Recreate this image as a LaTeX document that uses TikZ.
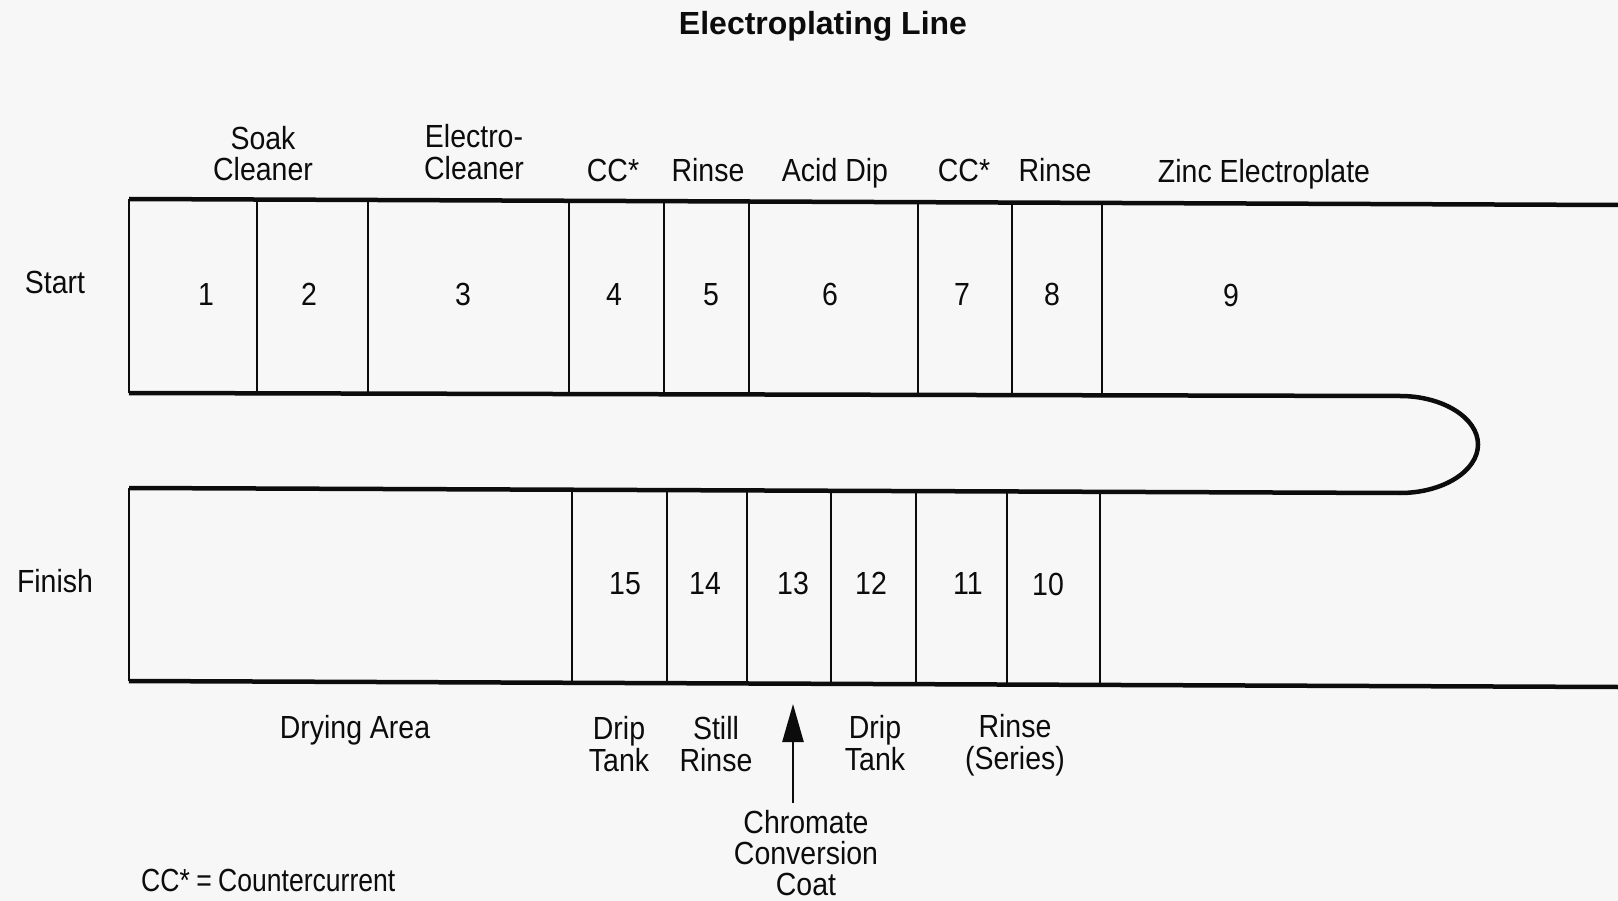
\documentclass[tikz,border=0pt]{standalone}
\usepackage{fontspec}
\setmainfont{Liberation Sans}[FakeStretch=0.89]
\newfontfamily\titlefont{Liberation Sans}
\newfontfamily\narrowfont{Liberation Sans}[FakeStretch=0.83]
\usetikzlibrary{arrows.meta}
\definecolor{paper}{RGB}{247,247,247}
\definecolor{ink}{RGB}{12,12,12}
\tikzset{
  rail/.style={line width=4.5pt, draw=ink},
  wall/.style={line width=2.5pt, draw=ink},
  lbl/.style={font=\fontsize{32}{31.5}\selectfont, inner sep=0pt, align=center, text=ink},
  txt/.style={font=\fontsize{32}{31.5}\selectfont, inner sep=0pt, anchor=base, text=ink},
  feed/.style={line width=2.5pt, draw=ink, -{Triangle[length=38pt,width=21pt]}},
}
\begin{document}
\begin{tikzpicture}[x=1pt,y=-1pt]
\fill[paper] (0,0) rectangle (1618,901);
\useasboundingbox (0,0) rectangle (1618,901);

% title
\node[txt, font=\titlefont\bfseries\fontsize{32}{32}\selectfont] (title) at (823,35) {Electroplating Line};

% side labels
\node[txt] (start) at (55,293.5) {Start};
\node[txt] (finish) at (55,592.5) {Finish};

% upper row outline
\draw[rail] (129,199) -- (1618,205);
\draw[rail] (129,393) -- (1400,396)
  .. controls (1443,396) and (1478,418) .. (1478,444.5)
  .. controls (1478,471) and (1443,493) .. (1400,493) -- (129,488);
\draw[rail] (129,681) -- (1618,687);
\draw[wall] (129,199) -- (129,393);
\draw[wall] (129,488) -- (129,681);

% upper dividers
\draw[wall] (257,199.5) -- (257,393.3);
\draw[wall] (368,200) -- (368,393.6);
\draw[wall] (569,201) -- (569,394);
\draw[wall] (664,201) -- (664,394.3);
\draw[wall] (749,201.5) -- (749,394.5);
\draw[wall] (918,202) -- (918,395);
\draw[wall] (1012,202.5) -- (1012,395);
\draw[wall] (1102,203) -- (1102,395.3);

% lower dividers
\draw[wall] (572,489.7) -- (572,682.8);
\draw[wall] (667,490) -- (667,683);
\draw[wall] (747,490.4) -- (747,683.5);
\draw[wall] (831,490.7) -- (831,683.8);
\draw[wall] (916,491) -- (916,684);
\draw[wall] (1007,491.4) -- (1007,684.5);
\draw[wall] (1100,491.8) -- (1100,685);

% upper tank numbers
\node[txt] (t1) at (206,305.5) {1};
\node[txt] (t2) at (309,305.5) {2};
\node[txt] (t3) at (463,305.5) {3};
\node[txt] (t4) at (614,305.5) {4};
\node[txt] (t5) at (711,305.5) {5};
\node[txt] (t6) at (830,306) {6};
\node[txt] (t7) at (962,306) {7};
\node[txt] (t8) at (1052,306) {8};
\node[txt] (t9) at (1231,307) {9};

% lower tank numbers
\node[txt] (t15) at (625,594.5) {15};
\node[txt] (t14) at (705,594.5) {14};
\node[txt] (t13) at (793,594.5) {13};
\node[txt] (t12) at (871,594.5) {12};
\node[txt] (t11) at (968,594.5) {11};
\node[txt] (t10) at (1048,595) {10};

% upper labels
\node[lbl] (soak) at (263,153.5) {Soak\\Cleaner};
\node[lbl] (elec) at (474,152) {Electro-\\Cleaner};
\node[txt] (cc1) at (613,182) {CC*};
\node[txt] (rin1) at (708,182) {Rinse};
\node[txt] (acid) at (835,182) {Acid Dip};
\node[txt] (cc2) at (964,182) {CC*};
\node[txt] (rin2) at (1055,182) {Rinse};
\node[txt] (zinc) at (1264,182.5) {Zinc Electroplate};

% lower labels
\node[txt] (dry) at (355,738) {Drying Area};
\node[lbl] (drip1) at (619,744) {Drip\\Tank};
\node[lbl] (still) at (716,744) {Still\\Rinse};
\node[lbl] (drip2) at (875,743) {Drip\\Tank};
\node[lbl] (rser) at (1015,745) {Rinse\\(Series)};
\node[lbl, font=\fontsize{32}{31}\selectfont] (ccc) at (806,853) {Chromate\\Conversion\\Coat};
\node[txt, anchor=base west, font=\narrowfont\fontsize{32}{31.5}\selectfont] (legend) at (141,891.5) {CC*\kern-1pt\ =\ \kern-1pt Countercurrent};

% chromate feed arrow
\coordinate (feedtail) at (793,803);
\coordinate (feedtip) at (793,704);
\draw[feed] (feedtail) -- (feedtip);
\end{tikzpicture}
\end{document}
